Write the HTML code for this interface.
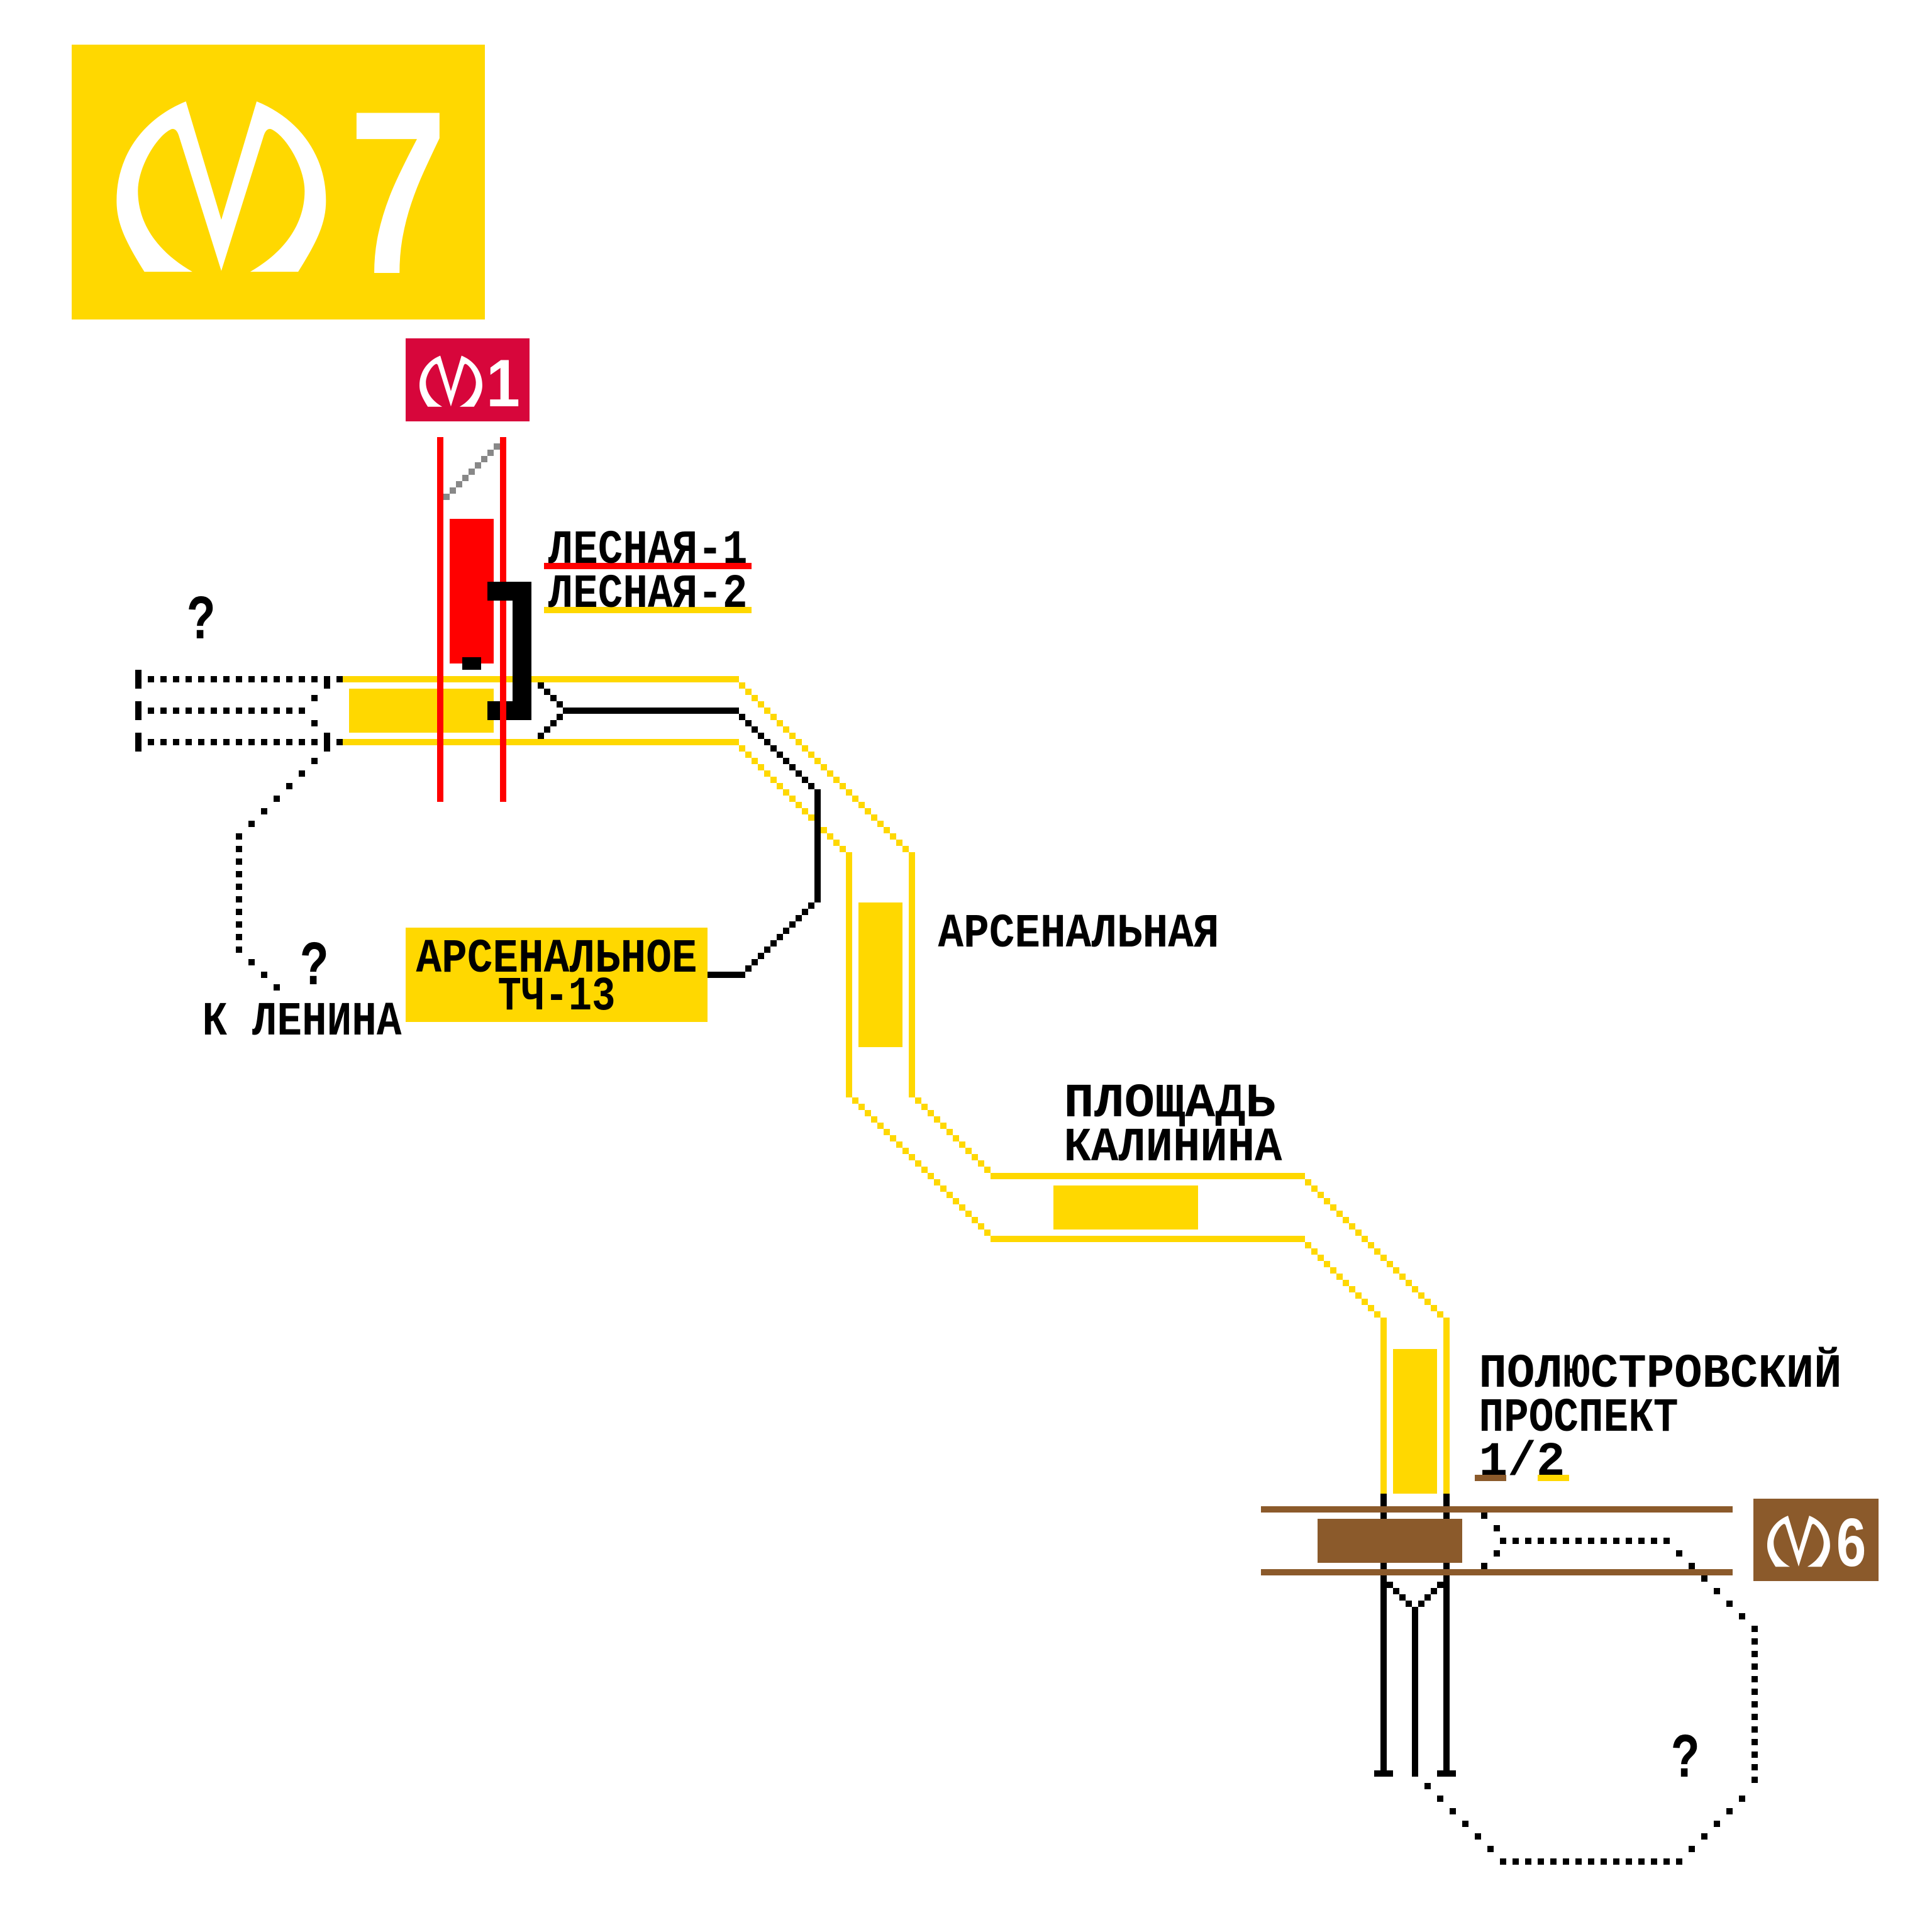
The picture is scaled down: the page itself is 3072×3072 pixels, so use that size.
<!DOCTYPE html>
<html><head><meta charset="utf-8"><style>
html,body{margin:0;padding:0;background:#fff;}
svg{display:block;}
</style></head><body>
<svg xmlns="http://www.w3.org/2000/svg" width="3072" height="3072" viewBox="0 0 3072 3072">
<defs>
<path id="mlogo" d="M229.6,432.1 C200,385 185.4,355 185.4,319.2 C185.4,250 225,190 295.6,161.2 L351.9,349.5 L408.1,161.2 C478.7,190 518.3,250 518.3,319.2 C518.3,355 503.7,385 474.1,432.1 L397.8,432.1 C453.7,400 484.4,355 484.4,303.6 C484.4,265 453.7,215 431,205.3 Q422.7,203 418.4,218.7 L351.9,430.8 L285.3,218.7 Q281,203 272.7,205.3 C250,215 219.3,265 219.3,303.6 C219.3,355 250,400 305.9,432.1 Z"/>
</defs>
<rect width="3072" height="3072" fill="#fff"/>
<g shape-rendering="crispEdges">
<rect x="114" y="71" width="657" height="437" fill="#FFD800"/>
<rect x="645" y="538" width="197" height="132" fill="#D7063B"/>
<rect x="2788" y="2383" width="199" height="131" fill="#8B5A2B"/>

<g fill="#FFD800">
<rect x="545" y="1075" width="630" height="10"/>
<rect x="545" y="1175" width="630" height="10"/>
<rect x="1345" y="1355" width="10" height="390"/>
<rect x="1445" y="1355" width="10" height="390"/>
<rect x="1575" y="1865" width="500" height="10"/>
<rect x="1575" y="1965" width="500" height="10"/>
<rect x="2195" y="2095" width="10" height="280"/>
<rect x="2295" y="2095" width="10" height="280"/>
<path d="M1175 1085h10v10h-10zm10 10h10v10h-10zm10 10h10v10h-10zm10 10h10v10h-10zm10 10h10v10h-10zm10 10h10v10h-10zm10 10h10v10h-10zm10 10h10v10h-10zm10 10h10v10h-10zm10 10h10v10h-10zm10 10h10v10h-10zm10 10h10v10h-10zm10 10h10v10h-10zm10 10h10v10h-10zm10 10h10v10h-10zm10 10h10v10h-10zm10 10h10v10h-10zm10 10h10v10h-10zm10 10h10v10h-10zm10 10h10v10h-10zm10 10h10v10h-10zm10 10h10v10h-10zm10 10h10v10h-10zm10 10h10v10h-10zm10 10h10v10h-10zm10 10h10v10h-10zm10 10h10v10h-10z"/>
<path d="M1175 1185h10v10h-10zm10 10h10v10h-10zm10 10h10v10h-10zm10 10h10v10h-10zm10 10h10v10h-10zm10 10h10v10h-10zm10 10h10v10h-10zm10 10h10v10h-10zm10 10h10v10h-10zm10 10h10v10h-10zm10 10h10v10h-10zm10 10h10v10h-10zm10 10h10v10h-10zm10 10h10v10h-10zm10 10h10v10h-10zm10 10h10v10h-10zm10 10h10v10h-10z"/>
<path d="M1455 1745h10v10h-10zm10 10h10v10h-10zm10 10h10v10h-10zm10 10h10v10h-10zm10 10h10v10h-10zm10 10h10v10h-10zm10 10h10v10h-10zm10 10h10v10h-10zm10 10h10v10h-10zm10 10h10v10h-10zm10 10h10v10h-10zm10 10h10v10h-10z"/>
<path d="M1355 1745h10v10h-10zm10 10h10v10h-10zm10 10h10v10h-10zm10 10h10v10h-10zm10 10h10v10h-10zm10 10h10v10h-10zm10 10h10v10h-10zm10 10h10v10h-10zm10 10h10v10h-10zm10 10h10v10h-10zm10 10h10v10h-10zm10 10h10v10h-10zm10 10h10v10h-10zm10 10h10v10h-10zm10 10h10v10h-10zm10 10h10v10h-10zm10 10h10v10h-10zm10 10h10v10h-10zm10 10h10v10h-10zm10 10h10v10h-10zm10 10h10v10h-10zm10 10h10v10h-10z"/>
<path d="M2075 1875h10v10h-10zm10 10h10v10h-10zm10 10h10v10h-10zm10 10h10v10h-10zm10 10h10v10h-10zm10 10h10v10h-10zm10 10h10v10h-10zm10 10h10v10h-10zm10 10h10v10h-10zm10 10h10v10h-10zm10 10h10v10h-10zm10 10h10v10h-10zm10 10h10v10h-10zm10 10h10v10h-10zm10 10h10v10h-10zm10 10h10v10h-10zm10 10h10v10h-10zm10 10h10v10h-10zm10 10h10v10h-10zm10 10h10v10h-10zm10 10h10v10h-10zm10 10h10v10h-10z"/>
<path d="M2075 1975h10v10h-10zm10 10h10v10h-10zm10 10h10v10h-10zm10 10h10v10h-10zm10 10h10v10h-10zm10 10h10v10h-10zm10 10h10v10h-10zm10 10h10v10h-10zm10 10h10v10h-10zm10 10h10v10h-10zm10 10h10v10h-10zm10 10h10v10h-10z"/>
<rect x="555" y="1095" width="230" height="70"/>
<rect x="1365" y="1435" width="70" height="230"/>
<rect x="1675" y="1885" width="230" height="70"/>
<rect x="2215" y="2145" width="70" height="230"/>
<rect x="645" y="1475" width="480" height="150"/>
<rect x="865" y="965" width="330" height="10"/>
<rect x="2445" y="2345" width="50" height="10"/>
</g>

<g fill="#000">
<rect x="895" y="1125" width="280" height="10"/>
<path d="M855 1085h10v10h-10zm10 10h10v10h-10zm10 10h10v10h-10zm10 10h10v10h-10z"/>
<path d="M885 1135h10v10h-10zm-10 10h10v10h-10zm-10 10h10v10h-10zm-10 10h10v10h-10z"/>
<path d="M1175 1135h10v10h-10zm10 10h10v10h-10zm10 10h10v10h-10zm10 10h10v10h-10zm10 10h10v10h-10zm10 10h10v10h-10zm10 10h10v10h-10zm10 10h10v10h-10zm10 10h10v10h-10zm10 10h10v10h-10zm10 10h10v10h-10zm10 10h10v10h-10z"/>
<rect x="1295" y="1255" width="10" height="180"/>
<path d="M1285 1435h10v10h-10zm-10 10h10v10h-10zm-10 10h10v10h-10zm-10 10h10v10h-10zm-10 10h10v10h-10zm-10 10h10v10h-10zm-10 10h10v10h-10zm-10 10h10v10h-10zm-10 10h10v10h-10zm-10 10h10v10h-10zm-10 10h10v10h-10z"/>
<rect x="1125" y="1545" width="60" height="10"/>
<rect x="2195" y="2375" width="10" height="450"/>
<rect x="2295" y="2375" width="10" height="450"/>
<rect x="2185" y="2815" width="30" height="10"/>
<rect x="2285" y="2815" width="30" height="10"/>
<rect x="2245" y="2555" width="10" height="270"/>
<path d="M2205 2515h10v10h-10zm10 10h10v10h-10zm10 10h10v10h-10zm10 10h10v10h-10z"/>
<path d="M2285 2515h10v10h-10zm-10 10h10v10h-10zm-10 10h10v10h-10zm-10 10h10v10h-10z"/>
<rect x="215" y="1065" width="10" height="30"/>
<rect x="215" y="1115" width="10" height="30"/>
<rect x="215" y="1165" width="10" height="30"/>
<rect x="515" y="1075" width="10" height="20"/>
<rect x="515" y="1165" width="10" height="30"/>
<path d="M235 1075h10v10h-10zm20 0h10v10h-10zm20 0h10v10h-10zm20 0h10v10h-10zm20 0h10v10h-10zm20 0h10v10h-10zm20 0h10v10h-10zm20 0h10v10h-10zm20 0h10v10h-10zm20 0h10v10h-10zm20 0h10v10h-10zm20 0h10v10h-10zm20 0h10v10h-10zm20 0h10v10h-10z"/>
<path d="M235 1125h10v10h-10zm20 0h10v10h-10zm20 0h10v10h-10zm20 0h10v10h-10zm20 0h10v10h-10zm20 0h10v10h-10zm20 0h10v10h-10zm20 0h10v10h-10zm20 0h10v10h-10zm20 0h10v10h-10zm20 0h10v10h-10zm20 0h10v10h-10zm20 0h10v10h-10z"/>
<path d="M235 1175h10v10h-10zm20 0h10v10h-10zm20 0h10v10h-10zm20 0h10v10h-10zm20 0h10v10h-10zm20 0h10v10h-10zm20 0h10v10h-10zm20 0h10v10h-10zm20 0h10v10h-10zm20 0h10v10h-10zm20 0h10v10h-10zm20 0h10v10h-10zm20 0h10v10h-10zm20 0h10v10h-10z"/>
<path d="M535 1075h10v10h-10zM535 1175h10v10h-10zM495 1105h10v10h-10zM495 1145h10v10h-10z"/>
<path d="M495 1205h10v10h-10zm-20 20h10v10h-10zm-20 20h10v10h-10zm-20 20h10v10h-10zm-20 20h10v10h-10zm-20 20h10v10h-10z"/>
<path d="M375 1325h10v10h-10zm0 20h10v10h-10zm0 20h10v10h-10zm0 20h10v10h-10zm0 20h10v10h-10zm0 20h10v10h-10zm0 20h10v10h-10zm0 20h10v10h-10zm0 20h10v10h-10zm0 20h10v10h-10z"/>
<path d="M395 1525h10v10h-10zm20 20h10v10h-10zm20 20h10v10h-10z"/>
<path d="M2385 2445h10v10h-10zm20 0h10v10h-10zm20 0h10v10h-10zm20 0h10v10h-10zm20 0h10v10h-10zm20 0h10v10h-10zm20 0h10v10h-10zm20 0h10v10h-10zm20 0h10v10h-10zm20 0h10v10h-10zm20 0h10v10h-10zm20 0h10v10h-10zm20 0h10v10h-10zm20 0h10v10h-10z"/>
<path d="M2355 2405h10v10h-10zM2375 2425h10v10h-10zM2375 2465h10v10h-10zM2355 2485h10v10h-10z"/>
<path d="M2665 2465h10v10h-10zm20 20h10v10h-10zm20 20h10v10h-10zm20 20h10v10h-10zm20 20h10v10h-10zm20 20h10v10h-10z"/>
<path d="M2785 2585h10v10h-10zm0 20h10v10h-10zm0 20h10v10h-10zm0 20h10v10h-10zm0 20h10v10h-10zm0 20h10v10h-10zm0 20h10v10h-10zm0 20h10v10h-10zm0 20h10v10h-10zm0 20h10v10h-10zm0 20h10v10h-10zm0 20h10v10h-10zm0 20h10v10h-10z"/>
<path d="M2765 2855h10v10h-10zm-20 20h10v10h-10zm-20 20h10v10h-10zm-20 20h10v10h-10zm-20 20h10v10h-10z"/>
<path d="M2385 2955h10v10h-10zm20 0h10v10h-10zm20 0h10v10h-10zm20 0h10v10h-10zm20 0h10v10h-10zm20 0h10v10h-10zm20 0h10v10h-10zm20 0h10v10h-10zm20 0h10v10h-10zm20 0h10v10h-10zm20 0h10v10h-10zm20 0h10v10h-10zm20 0h10v10h-10zm20 0h10v10h-10zm20 0h10v10h-10z"/>
<path d="M2265 2835h10v10h-10zm20 20h10v10h-10zm20 20h10v10h-10zm20 20h10v10h-10zm20 20h10v10h-10zm20 20h10v10h-10z"/>
</g>

<g fill="#8B5A2B">
<rect x="2005" y="2395" width="750" height="10"/>
<rect x="2005" y="2495" width="750" height="10"/>
<rect x="2095" y="2415" width="230" height="70"/>
<rect x="2345" y="2345" width="50" height="10"/>
</g>

<g fill="#FF0000">
<rect x="695" y="695" width="10" height="580"/>
<rect x="795" y="695" width="10" height="580"/>
<rect x="715" y="825" width="70" height="230"/>
<rect x="865" y="895" width="330" height="10"/>
</g>
<path fill="#888888" d="M785 705h10v10h-10zm-10 10h10v10h-10zm-10 10h10v10h-10zm-10 10h10v10h-10zm-10 10h10v10h-10zm-10 10h10v10h-10zm-10 10h10v10h-10zm-10 10h10v10h-10zm-10 10h10v10h-10z"/>
<g fill="#000">
<rect x="735" y="1045" width="30" height="20"/>
<rect x="775" y="925" width="70" height="30"/>
<rect x="815" y="925" width="30" height="220"/>
<rect x="775" y="1115" width="70" height="30"/>
</g>
<rect x="795" y="955" width="10" height="320" fill="#FF0000"/>
</g>

<use href="#mlogo" fill="#fff"/>
<use href="#mlogo" fill="#fff" transform="translate(611.4,517.1) scale(0.3)"/>
<use href="#mlogo" fill="#fff" transform="translate(2754.4,2361.6) scale(0.3)"/>
<g font-family="'Liberation Sans', Arial, sans-serif" font-weight="bold" fill="#fff" text-anchor="middle">
<text x="0" y="0" font-size="370" transform="translate(633,434) scale(0.76,1)">7</text>
<text x="0" y="0" font-size="107" transform="translate(800,646) scale(0.9,1)">1</text>
<text x="0" y="0" font-size="109" transform="translate(2943.5,2490) scale(0.78,1)">6</text>
</g>

<g font-family="'Liberation Mono', 'DejaVu Sans Mono', monospace" font-weight="bold" font-size="76" fill="#000">
<text x="871.5" y="895" textLength="317" lengthAdjust="spacingAndGlyphs">ЛЕСНАЯ-1</text>
<text x="871.5" y="965" textLength="317" lengthAdjust="spacingAndGlyphs">ЛЕСНАЯ-2</text>
<text x="661.5" y="1545" textLength="447" lengthAdjust="spacingAndGlyphs">АРСЕНАЛЬНОЕ</text>
<text x="791.5" y="1605" textLength="187" lengthAdjust="spacingAndGlyphs">ТЧ-13</text>
<text x="321.5" y="1645" textLength="317" lengthAdjust="spacingAndGlyphs">К ЛЕНИНА</text>
<text x="1491.5" y="1505" textLength="447" lengthAdjust="spacingAndGlyphs">АРСЕНАЛЬНАЯ</text>
<text x="1691.5" y="1775" textLength="337" lengthAdjust="spacingAndGlyphs">ПЛОЩАДЬ</text>
<text x="1691.5" y="1845" textLength="347" lengthAdjust="spacingAndGlyphs">КАЛИНИНА</text>
<text x="2351.5" y="2205" textLength="577" lengthAdjust="spacingAndGlyphs">ПОЛЮСТРОВСКИЙ</text>
<text x="2351.5" y="2275" textLength="317" lengthAdjust="spacingAndGlyphs">ПРОСПЕКТ</text>
<text x="2351.5" y="2345" textLength="137" lengthAdjust="spacingAndGlyphs">1/2</text>
</g>
<g font-family="'Liberation Mono', 'DejaVu Sans Mono', monospace" font-weight="bold" font-size="100" fill="#000" text-anchor="middle">
<text x="320" y="1015" textLength="45" lengthAdjust="spacingAndGlyphs">?</text>
<text x="500" y="1565" textLength="45" lengthAdjust="spacingAndGlyphs">?</text>
<text x="2680" y="2825" textLength="45" lengthAdjust="spacingAndGlyphs">?</text>
</g>
</svg>
</body></html>
